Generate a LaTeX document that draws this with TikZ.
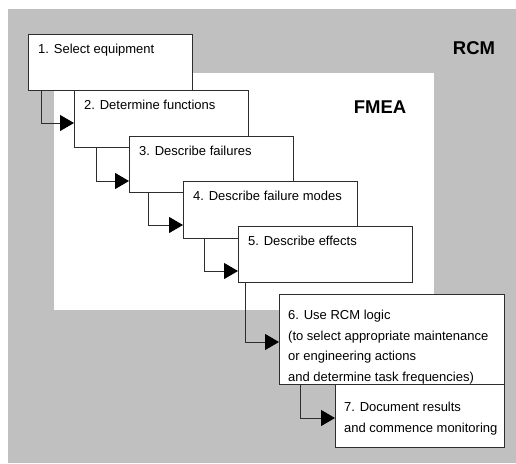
\documentclass[tikz,border=0pt]{standalone}
\usepackage{fontspec}
\setmainfont{Liberation Sans}
\usetikzlibrary{arrows.meta}
\usetikzlibrary{positioning}
\definecolor{rcmgray}{RGB}{192,192,192}
\definecolor{linegray}{RGB}{45,45,45}
\tikzset{
  stage/.style={draw=linegray, line width=1pt, fill=white, rectangle, inner sep=0pt, anchor=north west},
  steptext/.style={anchor=base west, inner sep=0pt, align=left, font=\fontsize{13}{20.5}\selectfont},
  link/.style={draw=linegray, line width=1pt, -{Triangle[length=14pt,width=16pt,color=black,fill=black]}},
  area/.style={font=\fontsize{18.5}{20}\selectfont\bfseries}
}
\begin{document}
\begin{tikzpicture}[x=1pt, y=-1pt]
				\useasboundingbox (0,0) rectangle (516,463);
				\fill[rcmgray] (8,9) rectangle (516,463);
				\fill[white] (54,73) rectangle (434,310);
				\node[area] (rcm) at (474,48) {RCM};
				\node[area] (fmea) at (380,107) {FMEA};
				
				\node[stage, minimum width=164pt, minimum height=56pt] (b1) at (28,34) {};
				\node[steptext] (t1) at ([xshift=10pt,yshift=-19pt]b1.north west) {1. Select equipment};
				\node[stage, minimum width=174pt, minimum height=57pt] (b2) at (74,90) {};
				\node[steptext] (t2) at ([xshift=10pt,yshift=-19pt]b2.north west) {2. Determine functions};
				\node[stage, minimum width=164pt, minimum height=56pt] (b3) at (129,136) {};
				\node[steptext] (t3) at ([xshift=10pt,yshift=-19pt]b3.north west) {3. Describe failures};
				\node[stage, minimum width=174pt, minimum height=57pt] (b4) at (183,181) {};
				\node[steptext] (t4) at ([xshift=10pt,yshift=-19pt]b4.north west) {4. Describe failure modes};
				\node[stage, minimum width=174pt, minimum height=56pt] (b5) at (238,226) {};
				\node[steptext] (t5) at ([xshift=10pt,yshift=-19pt]b5.north west) {5. Describe effects};
				\node[stage, minimum width=225pt, minimum height=90pt] (b6) at (279,294) {};
				\node[steptext, anchor=north west] (t6) at ([xshift=9pt,yshift=-16pt]b6.north west) {6. Use RCM logic\\(to select appropriate maintenance\\or engineering actions\\and determine task frequencies)};
				\node[stage, minimum width=169pt, minimum height=63pt] (b7) at (335,384) {};
				\node[steptext, anchor=north west] (t7) at ([xshift=9pt,yshift=-18pt]b7.north west) {7. Document results\\and commence monitoring};
				
				\draw[link] ([xshift=13pt]b1.south west) |- ([yshift=-33pt]b2.north west);
				\draw[link] ([xshift=22pt]b2.south west) |- ([yshift=-45pt]b3.north west);
				\draw[link] ([xshift=19pt]b3.south west) |- ([yshift=-44pt]b4.north west);
				\draw[link] ([xshift=21pt]b4.south west) |- ([yshift=-45pt]b5.north west);
				\draw[link] ([xshift=7pt]b5.south west) |- ([yshift=-48pt]b6.north west);
				\draw[link] ([xshift=21pt]b6.south west) |- ([yshift=-34pt]b7.north west);
			\end{tikzpicture}
\end{document}
